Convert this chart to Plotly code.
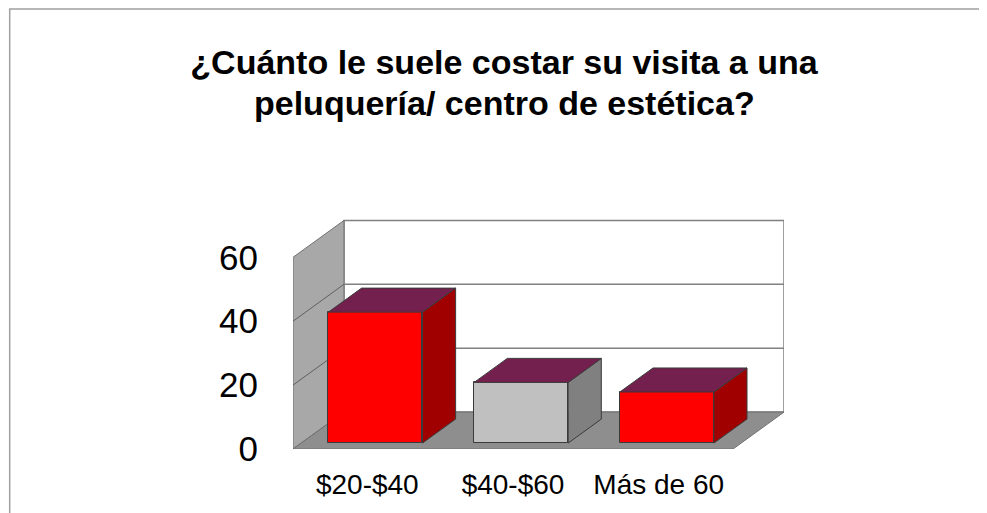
import plotly.graph_objects as go

# ---- data ----
categories = ["$20-$40", "$40-$60", "Más de 60"]
values = [41, 19, 16]
y_ticks = [0, 20, 40, 60]
title_lines = ["¿Cuánto le suele costar su visita a una", "peluquería/ centro de estética?"]
front_colors = ["#FF0000", "#C0C0C0", "#FF0000"]
side_colors = ["#A00000", "#808080", "#A00000"]
top_color = "#74204E"

# ---- 3D geometry (data units) ----
DX, DY = 0.35, 11.56        # full depth offset
D0, D1 = 0.16, 0.81         # bar front/back depth fraction
HW = 0.3226                 # bar half width
XL, XR = -0.51, 2.51        # floor extent (front)
YMAX = 60

FONT = "Liberation Sans, Arial, sans-serif"
W, H = 987, 513
OFF = 8  # page body margin

fig = go.Figure()

xs = list(range(len(categories)))

# front faces as bars
fig.add_trace(go.Bar(
    x=[i + D0 * DX for i in xs], y=values, base=[D0 * DY] * len(xs),
    width=2 * HW, marker=dict(color=front_colors, line=dict(color="#3a3a3a", width=1)),
    hoverinfo="skip", showlegend=False,
))

# side and top faces
for i, v, sc in zip(xs, values, side_colors):
    xr0 = i + HW + D0 * DX
    xr1 = i + HW + D1 * DX
    xl0 = i - HW + D0 * DX
    xl1 = i - HW + D1 * DX
    y0 = D0 * DY
    y1 = D1 * DY
    fig.add_trace(go.Scatter(
        x=[xr0, xr1, xr1, xr0, xr0], y=[y0, y1, y1 + v, y0 + v, y0],
        fill="toself", fillcolor=sc, mode="lines",
        line=dict(color="#3a3a3a", width=1), hoverinfo="skip", showlegend=False,
    ))
    fig.add_trace(go.Scatter(
        x=[xl0, xr0, xr1, xl1, xl0], y=[y0 + v, y0 + v, y1 + v, y1 + v, y0 + v],
        fill="toself", fillcolor=top_color, mode="lines",
        line=dict(color="#3a3a3a", width=1), hoverinfo="skip", showlegend=False,
    ))

shapes = []
# back wall
shapes.append(dict(type="rect", xref="x", yref="y", x0=XL + DX, x1=XR + DX, y0=DY, y1=YMAX + DY,
                   fillcolor="white", line=dict(color="#808080", width=1.5), layer="below"))
# left wall
shapes.append(dict(type="path", xref="x", yref="y",
                   path=f"M {XL},0 L {XL},{YMAX} L {XL+DX},{YMAX+DY} L {XL+DX},{DY} Z",
                   fillcolor="#A8A8A8", line=dict(color="#707070", width=1), layer="below"))
# floor
shapes.append(dict(type="path", xref="x", yref="y",
                   path=f"M {XL},0 L {XR},0 L {XR+DX},{DY} L {XL+DX},{DY} Z",
                   fillcolor="#8E8E8E", line=dict(color="#707070", width=1), layer="below"))
# gridlines
for t in y_ticks[1:-1]:
    shapes.append(dict(type="line", xref="x", yref="y", x0=XL + DX, x1=XR + DX, y0=t + DY, y1=t + DY,
                       line=dict(color="#808080", width=1.5), layer="below"))
    shapes.append(dict(type="line", xref="x", yref="y", x0=XL, x1=XL + DX, y0=t, y1=t + DY,
                       line=dict(color="#606060", width=1), layer="below"))
# outer frame
shapes.append(dict(type="rect", xref="paper", yref="paper", x0=-0.577, x1=1.45, y0=-0.4, y1=1.913,
                   fillcolor="rgba(0,0,0,0)", line=dict(color="#A0A0A0", width=1.5), layer="below"))

plot_left = 293 - OFF
plot_right = 784 - OFF
plot_top = 219 - OFF
plot_bottom = 449 - OFF
plot_w = plot_right - plot_left
plot_h = plot_bottom - plot_top

title_cx = 504 - OFF
line1_cy = 62 - OFF
line2_cy = 103 - OFF

fig.update_layout(
    width=W, height=H,
    margin=dict(l=plot_left, r=W - plot_right, t=plot_top, b=H - plot_bottom),
    paper_bgcolor="white", plot_bgcolor="white",
    shapes=shapes,
    title=dict(text=f"<b>{title_lines[0]}</b>",
               x=title_cx / W, xanchor="center", xref="container",
               y=1 - line1_cy / H, yanchor="middle", yref="container",
               font=dict(family=FONT, size=34, color="black")),
    annotations=[dict(text=f"<b>{title_lines[1]}</b>", showarrow=False,
                      x=(title_cx - plot_left) / plot_w, xanchor="center", xref="paper",
                      y=(plot_bottom - line2_cy) / plot_h, yanchor="middle", yref="paper",
                      font=dict(family=FONT, size=34, color="black"))],
    xaxis=dict(range=[XL, XR + DX], tickvals=xs, ticktext=categories,
               showgrid=False, zeroline=False, showline=False, ticks="",
               ticklabelstandoff=16, tickfont=dict(family=FONT, size=28, color="black")),
    yaxis=dict(range=[0, 72], tickvals=y_ticks, showgrid=False, zeroline=False, showline=False,
               ticks="", ticklabelstandoff=34, tickfont=dict(family=FONT, size=35, color="black")),
    bargap=0,
)

fig.write_html("out.html")
